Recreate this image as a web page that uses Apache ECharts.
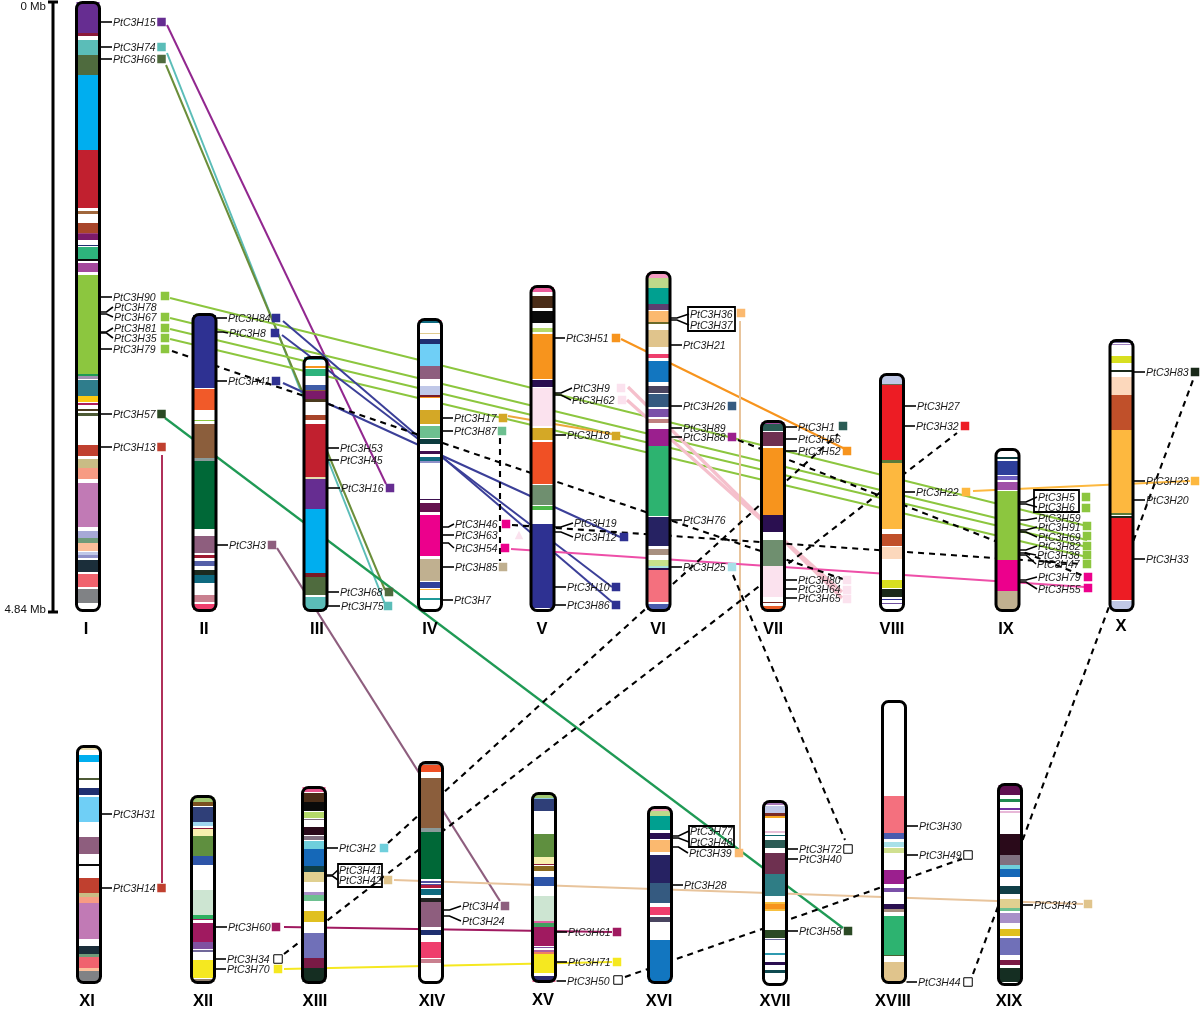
<!DOCTYPE html>
<html><head><meta charset="utf-8">
<style>html,body{margin:0;padding:0;background:#fff}#c{width:1200px;height:1010px}</style>
<script src="https://cdn.jsdelivr.net/npm/echarts@6/dist/echarts.min.js"></script>
</head><body><div id="c"></div>
<script>
const palette={
 pur:'#662d91',mar:'#8b1a3a',tea:'#5bbdb8',olv:'#4f6b3e',sky:'#00aeef',red:'#c1202f',brn:'#a0673c',rus:'#a8452a',mag:'#a0407a',dpu:'#7b1a6a',nav:'#1f2f70',emr:'#2db37c',blk:'#0a0a0a',orc:'#a4489c',lim:'#8cc63f',grn:'#1f9a55',lav:'#a090b0',pet:'#2f7d8c',yel:'#fdc913',rose:'#b01e5c',umb:'#4a3a1f',dol:'#4d5a35',tom:'#c0402f',khk:'#c9bc85',sal:'#f79b83',vio:'#c17ab5',peri:'#a7a9d6',sage:'#6f9b79',pea:'#fbbf9a',pbl:'#c0c8e8',mbl:'#8f91c9',ink:'#1b2e3a',cor:'#f0636e',gry:'#808285',
 ind:'#2e3192',org:'#f15a29',tan:'#8b5e3c',gyg:'#8a9a9a',fgr:'#006837',mau:'#8e5e7e',crm:'#9e1b32',slb:'#5560a8',cha:'#1c2b20',tbl:'#0f6a80',pnk:'#c9808f',hot:'#ef3e6d',tl2:'#3ea1a0',amb:'#f7941d',rbl:'#3f5da8',dbr:'#7a1a25',gld:'#d4a826',dtl:'#0d3b3e',eggp:'#3d1050',lbl:'#6fcff6',dmg:'#64124e',fuc:'#ec008c',stn:'#c0b090',cyn:'#1f9a9a',bge:'#e0cc90',
 pkh:'#ec5c9c',bwn:'#4a2c17',lgn:'#b5d96a',pal:'#fbe2ee',ogr:'#f05025',sgr:'#6f8f6f',lgr:'#4cb848',mpk:'#f49ac1',pgn:'#bcd98a',tqs:'#00a090',plm:'#5c3f70',apr:'#fbb96f',ol2:'#6a6a2a',sda:'#e0c48c',blu:'#1276c0',dgy:'#4a4560',stb:'#355a80',vi2:'#7a50a8',rsb:'#c08080',pmg:'#9b1f8e',eme:'#2db370',nv2:'#262262',tau:'#a89080',lgy:'#c8e08a',aqu:'#a8e0e0',dvi:'#2a0f50',blm:'#4a5cae',dtg:'#2b5c55',wne:'#6e3050',rd2:'#e85c28',
 pbg:'#c0c8e6',oly:'#6a6a50',rdb:'#ed1c24',oln:'#5a7a3a',ygo:'#fdb83f',sie:'#c0502a',pch:'#fcd8bc',cit:'#d8df20',gbk:'#1a2a1a',pp2:'#7050a0',bl2:'#2e3f9a',vi3:'#7060c0',or2:'#a050a8',lpp:'#a080c0',
 cre:'#e8dcae',brc:'#a0c870',lbr:'#7a5020',sla:'#2f3f78',pcy:'#a0d8f0',pyl:'#f8f0b0',mgr:'#5f8f3f',cob:'#2e55a8',mnt:'#cde5d2',grm:'#2db060',ber:'#a01a60',pv2:'#8050a0',gpp:'#70689a',lem:'#f5e820',tpe:'#908070',
 rh1:'#e8528a',dp2:'#2a0a1a',gv:'#807080',cya:'#6fcfdc',bl3:'#1568b8',dt2:'#0f3f48',wht:'#e0d090',lv2:'#a890c8',mg2:'#6dc090',mus:'#e0c020',pb2:'#7070b8',wn2:'#7a1a45',fg2:'#152e22',
 gr3:'#8a8a8a',gv2:'#5050a0',rb2:'#b01e3e',drk:'#222222',ptl:'#8ecae0',bg2:'#8a6a20',ms2:'#e060a0',gn2:'#40a060',pn2:'#b060a0',or3:'#f08060',nv3:'#2a2a70',rs2:'#e05080',pk3:'#f0a0b8',
 lil:'#a878b8',rdb2:'#7a2a25',yo2:'#f7a820',ppk:'#e8c0d8',tg2:'#0f6a70',tl3:'#2f7d85',yo3:'#f7c040',mss:'#2b4a25',gv3:'#7070a0',tl4:'#2f9ab0',dg2:'#0f4a50',rs3:'#f4707e',lp3:'#a8e0e8',lg3:'#d0e090',gg2:'#4a6030',pr2:'#600f50',gn4:'#1f8a50',v5:'#7030a0',pp5:'#e8b8d8',ln:'#e8c49c',
 lkp:'#92278f',lko:'#6b8e3a',lkg:'#8cc63f',lkb:'#3b3f98',lkc:'#b0305a',lkm:'#1f9a55',lku:'#8e5e7e',lka:'#eca83c',lkq:'#f5c0cc',lks:'#ee4fa8',lkk:'#000000'
};

const chromNames=['I','II','III','IV','V','VI','VII','VIII','IX','X','XI','XII','XIII','XIV','XV','XVI','XVII','XVIII','XIX'];
const chromCentre=[88,204.5,315.5,430,542.5,658.5,773,892,1007.5,1121.5,89,203,314,431,544,660,775,894,1010];
const chromTop=[1,313,356,318,285,271,420,373,448,339,745,795,786,761,792,806,800,700,783];
const chromBottom=[612,612,612,612,612,612,612,612,612,612,984,984,984,984,983,984,986,984,986];
const chromLabelX=[86,204,317,430,542,658,773,892,1006,1121,87,203,315,432,543,659,775,893,1009];
const chromLabelY=[629,629,629,629,629,629,629,629,629,626,1001,1001,1001,1001,1000,1001,1001,1001,1001];

const bandsI=[[2,33,'pur'],[33,36,'mar'],[40,55,'tea'],[55,75,'olv'],[75,150,'sky'],[150,208,'red'],[211,214,'brn'],[223,233,'rus'],[233,234,'mag'],[234,240,'dpu'],[245,246,'nav'],[247,259,'emr'],[259,261,'blk'],[263,272,'orc'],[275,374,'lim'],[374,376,'grn'],[376,379,'lav'],[380,396,'pet'],[396,402,'yel'],[403,405,'rose'],[409,411,'umb'],[413,416,'dol'],[445,456,'tom'],[459,468,'khk'],[468,479,'sal'],[483,527,'vio'],[531,538,'peri'],[538,543,'sage'],[543,551,'pea'],[552,555,'pbl'],[555,558,'mbl'],[560,572,'ink'],[574,587,'cor'],[589,603,'gry']];
const bandsII=[[315,388,'ind'],[389,410,'org'],[420,421,'lim'],[424,458,'tan'],[458,461,'gyg'],[461,529,'fgr'],[536,553,'mau'],[555,558,'crm'],[561,566,'slb'],[570,575,'cha'],[575,583,'tbl'],[595,602,'pnk'],[604,610,'hot']];
const bandsIII=[[357,360,'tl2'],[366,368,'amb'],[369,376,'emr'],[385,390,'rbl'],[390,391,'tan'],[391,399,'dpu'],[399,402,'umb'],[415,420,'rus'],[424,477,'red'],[477,479,'cre'],[479,509,'pur'],[509,573,'sky'],[573,577,'dbr'],[577,595,'olv'],[597,610,'tea']];
const bandsIV=[[320,321,'hot'],[321,323,'tbl'],[333,334,'bge'],[339,344,'nav'],[344,366,'lbl'],[366,379,'mau'],[386,395,'pbl'],[395,397,'dbr'],[397,398,'amb'],[410,424,'gld'],[426,438,'mg2'],[439,444,'dtl'],[451,454,'eggp'],[457,461,'tbl'],[461,463,'mbl'],[499,500,'eggp'],[503,512,'dmg'],[515,556,'fuc'],[559,581,'stn'],[582,588,'bl2'],[589,590,'ygo'],[598,600,'cyn']];
const bandsV=[[287,292,'pkh'],[296,308,'bwn'],[311,323,'blk'],[328,332,'lgn'],[334,379,'amb'],[380,387,'dvi'],[388,426,'pal'],[428,440,'gld'],[442,484,'ogr'],[485,505,'sgr'],[506,510,'lgr'],[524,608,'ind']];
const bandsVI=[[273,278,'mpk'],[278,288,'pgn'],[288,304,'tqs'],[304,310,'plm'],[311,322,'apr'],[322,324,'ol2'],[330,347,'sda'],[354,358,'hot'],[361,382,'blu'],[386,393,'dgy'],[394,407,'stb'],[409,417,'vi2'],[419,423,'rsb'],[429,446,'pmg'],[446,516,'eme'],[517,546,'nv2'],[549,555,'tau'],[560,566,'lgy'],[566,568,'aqu'],[568,570,'dvi'],[570,602,'rs3'],[604,610,'blm']];
const bandsVII=[[422,424,'orc'],[424,431,'dtg'],[432,446,'wne'],[448,515,'amb'],[515,532,'dvi'],[540,566,'sgr'],[566,597,'pal'],[602,603,'rdb2'],[606,610,'rd2']];
const bandsVIII=[[375,384,'pbg'],[384,385,'oly'],[385,460,'rdb'],[460,463,'oln'],[463,529,'ygo'],[534,546,'sie'],[547,559,'pch'],[580,588,'cit'],[589,597,'gbk'],[599,600,'ind'],[603,604,'pp2']];
const bandsIX=[[457,459,'dtl'],[461,475,'bl2'],[476,480,'vi3'],[482,490,'or2'],[491,560,'lim'],[560,591,'fuc'],[591,610,'stn']];
const bandsX=[[341,343,'gpp'],[344,345,'lpp'],[356,363,'cit'],[370,372,'gbk'],[377,395,'pch'],[395,430,'sie'],[430,513,'ygo'],[513,515,'oln'],[516,518,'gbk'],[518,600,'rdb'],[601,610,'pbg']];
const bandsXI=[[748,750,'cre'],[755,762,'sky'],[778,780,'dol'],[788,795,'nav'],[797,822,'lbl'],[837,854,'mau'],[864,866,'blk'],[878,893,'tom'],[893,897,'khk'],[897,903,'sal'],[903,939,'vio'],[946,954,'ink'],[954,957,'sage'],[957,968,'cor'],[968,971,'pea'],[971,982,'gry']];
const bandsXII=[[797,802,'brc'],[802,806,'lbr'],[807,822,'sla'],[822,826,'pcy'],[828,829,'mar'],[829,836,'pyl'],[836,856,'mgr'],[856,865,'cob'],[890,915,'mnt'],[915,919,'grm'],[919,920,'ber'],[923,942,'ber'],[942,949,'pv2'],[950,952,'gpp'],[960,978,'lem'],[979,982,'tpe']];
const bandsXIII=[[787,792,'rh1'],[793,802,'bwn'],[802,811,'blk'],[812,818,'lgn'],[819,820,'gv'],[827,835,'dp2'],[836,840,'gv'],[841,849,'cya'],[849,866,'bl3'],[866,872,'dt2'],[872,882,'wht'],[892,895,'lv2'],[895,901,'mg2'],[911,922,'mus'],[933,958,'pb2'],[958,968,'wn2'],[968,982,'fg2']];
const bandsXIV=[[763,765,'gr3'],[765,772,'ogr'],[778,828,'tan'],[828,832,'gyg'],[832,879,'fgr'],[881,883,'gv2'],[884,885,'gv2'],[885,888,'rb2'],[889,895,'tbl'],[898,902,'drk'],[902,927,'mau'],[930,935,'nav'],[942,958,'hot'],[959,963,'pnk']];
const bandsXV=[[794,798,'brc'],[798,799,'ptl'],[799,811,'sla'],[834,857,'mgr'],[857,864,'pyl'],[864,865,'mar'],[866,871,'bg2'],[877,886,'cob'],[896,921,'mnt'],[921,923,'ms2'],[923,927,'gn2'],[927,946,'ber'],[947,948,'pv2'],[950,952,'pn2'],[952,954,'or3'],[954,973,'lem'],[976,980,'nv3'],[980,982,'rs2']];
const bandsXVI=[[808,811,'pk3'],[811,816,'pgn'],[816,830,'tqs'],[833,839,'dvi'],[840,852,'apr'],[855,883,'nv2'],[883,903,'stb'],[907,915,'hot'],[917,922,'dgy'],[940,982,'blu']];
const bandsXVII=[[802,805,'lil'],[806,813,'pbl'],[813,816,'rdb2'],[816,818,'yo2'],[831,833,'ppk'],[835,836,'tg2'],[840,848,'dtg'],[853,874,'wne'],[874,896,'tl3'],[902,904,'yo3'],[904,909,'amb'],[909,911,'yo3'],[930,938,'mss'],[939,940,'gv3'],[953,955,'tl4'],[962,965,'dvi'],[970,973,'dg2']];
const bandsXVIII=[[796,833,'rs3'],[833,839,'blm'],[842,847,'lp3'],[848,853,'lg3'],[870,884,'pmg'],[888,892,'vi2'],[904,909,'dvi'],[909,912,'tau'],[916,955,'eme'],[955,956,'gg2'],[962,982,'sda']];
const bandsXIX=[[785,795,'pr2'],[799,802,'gn4'],[808,810,'v5'],[811,813,'pp5'],[834,855,'dp2'],[855,865,'gv'],[865,869,'cya'],[869,877,'bl3'],[886,894,'dt2'],[899,908,'wht'],[908,911,'mg2'],[913,923,'lv2'],[929,936,'mus'],[938,955,'pb2'],[960,965,'wn2'],[968,982,'fg2']];
const allBands=[bandsI,bandsII,bandsIII,bandsIV,bandsV,bandsVI,bandsVII,bandsVIII,bandsIX,bandsX,bandsXI,bandsXII,bandsXIII,bandsXIV,bandsXV,bandsXVI,bandsXVII,bandsXVIII,bandsXIX];

// [name, chromosome index, y on chromosome, label x, label y, marker x, marker y, marker colour key]
const genesTop=[
['PtC3H15',0,22,113,22,161.5,22,'pur'],['PtC3H74',0,47,113,47,161.5,47,'tea'],['PtC3H66',0,59,113,59,161.5,59,'olv'],
['PtC3H90',0,297,113,297,165,296,'lim'],['PtC3H78',0,312,114,307],['PtC3H67',0,314,114,317,165,317,'lim'],['PtC3H81',0,332,114,328,165,328,'lim'],['PtC3H35',0,333,114,338,165,338,'lim'],['PtC3H79',0,349,113,349,165,349,'lim'],
['PtC3H57',0,414,113,414,161.5,414,'mss'],['PtC3H13',0,447,113,447,161.5,447,'tom'],
['PtC3H84',1,318,228,318,276,318,'ind'],['PtC3H8',1,332,229,333,275,333,'ind'],['PtC3H41',1,381,228,381,276,381,'ind'],['PtC3H3',1,545,229,545,272,545,'mau'],
['PtC3H53',2,448,340,448],['PtC3H45',2,460,340,460],['PtC3H16',2,488,341,488,390,488,'pur'],['PtC3H68',2,592,340,592,389,592,'olv'],['PtC3H75',2,606,341,606,388,606,'tea'],
['PtC3H17',3,418,454,418,503,418,'gld'],['PtC3H87',3,431,454,431,502,431,'mg2'],['PtC3H46',3,527,455,524,506,524,'fuc'],['PtC3H63',3,535,455,535,519,535,'pal'],['PtC3H54',3,543,455,548,505,548,'fuc'],['PtC3H85',3,567,455,567,503,567,'stn'],['PtC3H7',3,600,454,600],
['PtC3H51',4,338,566,338,616,338,'amb'],['PtC3H9',4,393,573,388,621,388,'pal'],['PtC3H62',4,395,572,400,622,400,'pal'],['PtC3H18',4,435,567,435,616,436,'gld'],['PtC3H19',4,527,574,523],['PtC3H12',4,532,574,537,624,537,'ind'],['PtC3H10',4,587,567,587,616,587,'ind'],['PtC3H86',4,605,567,605,616,605,'ind'],
['PtC3H36',5,318,690,314,741,313,'apr'],['PtC3H37',5,320,690,325],['PtC3H21',5,345,683,345],['PtC3H26',5,406,683,406,732,406,'stb'],['PtC3H89',5,428,683,428],['PtC3H88',5,437,683,437,732,437,'pmg'],['PtC3H76',5,520,683,520],['PtC3H25',5,567,683,567,732,567,'lp3'],
['PtC3H1',6,427,798,427,843,426,'dtg'],['PtC3H56',6,439,798,439],['PtC3H52',6,451,798,451,847,451,'amb'],['PtC3H80',6,580,798,580,847,580,'pal'],['PtC3H64',6,589,798,589,847,590,'pal'],['PtC3H65',6,598,798,598,847,599,'pal'],
['PtC3H27',7,406,917,406],['PtC3H32',7,426,916,426,965,426,'rdb'],['PtC3H22',7,492,916,492,966,492,'ygo'],
['PtC3H5',8,502,1038,497,1086,497,'lim'],['PtC3H6',8,504,1038,507,1086,508,'lim'],['PtC3H59',8,520,1038,518],['PtC3H91',8,530,1038,527,1087,526,'lim'],['PtC3H69',8,532,1038,537,1087,536,'lim'],['PtC3H82',8,550,1038,546,1087,546,'lim'],['PtC3H38',8,553,1037,555,1087,555,'lim'],['PtC3H47',8,555,1037,564,1087,564,'lim'],['PtC3H79',8,580,1038,577,1088,577,'fuc'],['PtC3H55',8,582,1038,589,1088,588,'fuc'],
['PtC3H83',9,372,1146,372,1195,372,'gbk'],['PtC3H23',9,481,1146,481,1195,481,'ygo'],['PtC3H20',9,500,1146,500],['PtC3H33',9,559,1146,559]
];
const genesBottom=[
['PtC3H31',10,814,113,814],['PtC3H14',10,888,113,888,161.5,888,'tom'],
['PtC3H60',11,927,228,927,276,927,'ber'],['PtC3H34',11,959,227,959,278,959,null],['PtC3H70',11,969,227,969,278,969,'lem'],
['PtC3H2',12,848,339,848,384,848,'cya'],['PtC3H41',12,875,339,870],['PtC3H42',12,876,339,880,388,880,'sda'],
['PtC3H4',13,910,462,906,505,906,'mau'],['PtC3H24',13,916,462,921],
['PtC3H61',14,932,568,932,617,932,'ber'],['PtC3H71',14,962,568,962,617,962,'lem'],['PtC3H50',14,981,567,981,618,980,null],
['PtC3H77',15,836,690,831],['PtC3H48',15,838,690,842],['PtC3H39',15,847,689,853,739,853,'apr'],['PtC3H28',15,885,684,885],
['PtC3H72',16,849,799,849,848,849,null],['PtC3H40',16,859,799,859],['PtC3H58',16,931,799,931,848,931,'mss'],
['PtC3H30',17,826,919,826],['PtC3H49',17,855,919,855,968,855,null],['PtC3H44',17,982,918,982,968,982,null],
['PtC3H43',18,905,1034,905,1088,904,'sda']
];
const labelBoxes=[[688,307,735,331],[1034,490,1079,512],[338,864,382,887],[689,826,734,847]];

// [x1,y1,x2,y2,colour key,line width]
const solidLinks=[
[167,25,386,484,'lkp',2],[167,53,385,604,'tea',2],[166,65,385,590,'lko',2],
[170,298,1087,526,'lkg',1.9],[170,318,1087,540,'lkg',1.9],[170,329,1087,547,'lkg',1.9],[170,339,1087,557,'lkg',1.9],
[283,321,612,602,'lkb',2],[282,335,612,587,'lkb',2],[283,383,620,537,'lkb',2],
[161.5,455,161.5,883,'lkc',2],[165,418,843,928,'lkm',2.2],[277,548,500,901,'lku',2.2],
[508,416,612,434,'lka',2],[621,339,845,449,'amb',2.2],
[628,387,842,598,'lkq',3.2],[627,400,842,592,'lkq',3.2],
[740,321,740,849,'ln',2],[973,491,1190,481,'ygo',2],[511,549,1085,587,'lks',2],
[284,927,612,932,'ber',2],[284,969,612,962,'lem',2.2],[394,880,1083,904,'ln',2.2]
];
const dashedLinks=[
[172,351,843,579],[512,525,1082,564],[738,440,1084,576],[500,438,500,561],[733,575,845,840],
[388,843,838,434],[284,954,957,433],[625,977,962,859],[973,974,1193,380]
];
const scaleBar=[[53,2],[53,612]];
const scaleCaps=[[[48,2],[58,2]],[[48,612],[58,612]]];
const scaleLabels=[['0 Mb',46,7],['4.84 Mb',46,610]];

const allGenes=genesTop.concat(genesBottom);
const halfW=11.5;
const bandRows=[];
allBands.forEach((bs,c)=>bs.forEach(b=>bandRows.push([c,b[0],b[1],b[2]])));

const linkData=solidLinks.map(l=>({coords:[[l[0],l[1]],[l[2],l[3]]],lineStyle:{color:palette[l[4]],width:l[5],type:'solid',opacity:1}}))
 .concat(dashedLinks.map(l=>({coords:[[l[0],l[1]],[l[2],l[3]]],lineStyle:{color:'#000',width:2.1,type:[6,5],opacity:1}})));

const tickData=allGenes.map(g=>{
  const e=chromCentre[g[1]]+halfW+1;
  const pts=g[2]===g[4]?[[e,g[2]],[g[3]-1,g[4]]]:[[e,g[2]],[e+6,g[2]],[g[3]-1,g[4]]];
  return {coords:pts};
});
const scaleData=[{coords:scaleBar}].concat(scaleCaps.map(c=>({coords:c})));

const markers=allGenes.filter(g=>g[5]!==undefined).map(g=>({
  value:[g[5],g[6]],
  symbol:g[0]==='PtC3H63'?'triangle':'rect',
  symbolSize:8.5,
  itemStyle:g[7]?{color:palette[g[7]],borderWidth:0,opacity:1}:{color:'#fff',borderColor:'#000',borderWidth:1,opacity:1}
}));

const textRows=allGenes.map(g=>({t:g[0],x:g[3],y:g[4]+1,font:'italic 10.5px "Liberation Sans"',align:'left',fill:'#1a1a1a'}))
 .concat(scaleLabels.map(s=>({t:s[0],x:s[1],y:s[2],font:'11.5px "Liberation Sans"',align:'right',fill:'#111'})))
 .concat(chromNames.map((n,i)=>({t:n,x:chromLabelX[i],y:chromLabelY[i],font:'bold 16.5px "Liberation Sans"',align:'center',fill:'#000'})));

const chart=echarts.init(document.getElementById('c'),null,{renderer:'canvas'});
chart.setOption({
 animation:false,backgroundColor:'#fff',
 grid:{left:0,right:0,top:0,bottom:0},
 xAxis:{type:'value',min:0,max:1200,show:false},
 yAxis:{type:'value',min:0,max:1010,inverse:true,show:false},
 series:[
  {type:'lines',coordinateSystem:'cartesian2d',z:1,silent:true,data:linkData,effect:{show:false}},
  {type:'custom',z:2,silent:true,clip:false,data:chromNames.map((n,i)=>[chromCentre[i],chromTop[i]]),
   renderItem(p,api){const i=p.dataIndex;const a=api.coord([chromCentre[i]-halfW,chromTop[i]+1.5]);const b=api.coord([chromCentre[i]+halfW,chromBottom[i]-1.5]);
     return {type:'rect',shape:{x:a[0],y:a[1],width:b[0]-a[0],height:b[1]-a[1],r:6},style:{fill:'#fff',stroke:null}};}},
  {type:'custom',z:3,silent:true,clip:false,data:bandRows.map(r=>[chromCentre[r[0]],r[1],r[2]]),
   renderItem(p,api){const r=bandRows[p.dataIndex];const a=api.coord([chromCentre[r[0]]-halfW,r[1]]);const b=api.coord([chromCentre[r[0]]+halfW,r[2]]);
     return {type:'rect',shape:{x:a[0],y:a[1],width:b[0]-a[0],height:b[1]-a[1]},style:{fill:palette[r[3]]}};}},
  {type:'custom',z:4,silent:true,clip:false,data:chromNames.map((n,i)=>[chromCentre[i],chromTop[i]]),
   renderItem(p,api){const i=p.dataIndex;const a=api.coord([chromCentre[i]-halfW,chromTop[i]+1.5]);const b=api.coord([chromCentre[i]+halfW,chromBottom[i]-1.5]);
     return {type:'rect',shape:{x:a[0],y:a[1],width:b[0]-a[0],height:b[1]-a[1],r:6},style:{fill:'none',stroke:'#000',lineWidth:3}};}},
  {type:'lines',coordinateSystem:'cartesian2d',polyline:true,z:5,silent:true,lineStyle:{color:'#000',width:1.6,opacity:1},data:tickData},
  {type:'lines',coordinateSystem:'cartesian2d',polyline:true,z:5,silent:true,lineStyle:{color:'#000',width:3,opacity:1},data:scaleData},
  {type:'custom',z:5,silent:true,clip:false,data:labelBoxes.map(b=>[b[0],b[1]]),
   renderItem(p,api){const q=labelBoxes[p.dataIndex];const a=api.coord([q[0],q[1]]);const b=api.coord([q[2],q[3]]);
     return {type:'rect',shape:{x:a[0],y:a[1],width:b[0]-a[0],height:b[1]-a[1]},style:{fill:'none',stroke:'#000',lineWidth:1.8}};}},
  {type:'custom',z:6,silent:true,clip:false,data:textRows.map(t=>[t.x,t.y]),
   renderItem(p,api){const t=textRows[p.dataIndex];const a=api.coord([t.x,t.y]);
     return {type:'text',style:{text:t.t,x:a[0],y:a[1],font:t.font,fill:t.fill,align:t.align,verticalAlign:'middle'}};}},
  {type:'scatter',z:7,silent:true,clip:false,data:markers}
 ]
});
</script></body></html>
